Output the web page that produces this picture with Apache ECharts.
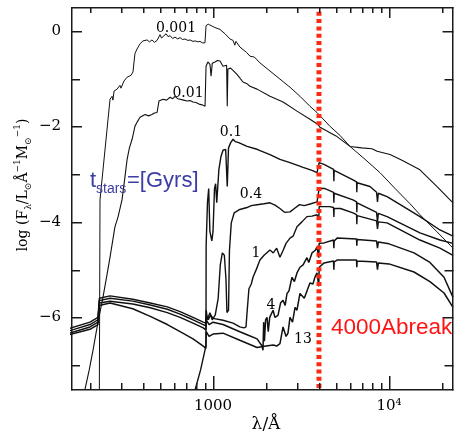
<!DOCTYPE html>
<html><head><meta charset="utf-8">
<script src="https://cdn.jsdelivr.net/npm/echarts@6/dist/echarts.min.js"></script>
<style>html,body{margin:0;padding:0;background:#fff}#c{width:454px;height:439px}#err{position:absolute;left:80px;top:60px;font:10px monospace;color:#c00;width:360px}</style>
</head><body><div id="c"></div><div id="err"></div><script>
// ---- data: [wavelength in Angstrom, log F_lambda] ----
const ageLabels = ['0.001','0.01','0.1','0.4','1','4','13'];
const sed0001 = [[226,-7.7],[228,-3.54],[260,-1.43],[267,-1.37],[270,-1.45],[274,-1.26],[285,-1.22],[296,-1.14],[300,-1.2],[312,-1.05],[325,-0.97],[342,-0.93],[351,-0.86],[360,-0.48],[370,-0.38],[385,-0.27],[400,-0.21],[410,-0.25],[422,-0.19],[435,-0.23],[450,-0.19],[465,-0.24],[481,-0.2],[500,-0.08],[510,-0.15],[520,-0.13],[541,-0.06],[555,-0.12],[570,-0.1],[590,-0.16],[608,-0.13],[630,-0.17],[649,-0.14],[670,-0.18],[693,-0.17],[720,-0.2],[740,-0.19],[770,-0.22],[791,-0.21],[820,-0.23],[843,-0.22],[870,-0.25],[900,-0.25],[911,-0.27],[913,0.11],[940,0.14],[987,0.1],[1026,0.07],[1096,0.03],[1170,-0.06],[1249,-0.17],[1300,-0.2],[1330,-0.3],[1350,-0.22],[1423,-0.34],[1550,-0.45],[1622,-0.53],[1720,-0.55],[1848,-0.67],[2107,-0.84],[2401,-1.01],[2738,-1.18],[3119,-1.37],[3555,-1.58],[3899,-1.71],[4625,-2.0],[5270,-2.19],[6004,-2.42],[7305,-2.69],[8893,-2.97],[10820,-3.3],[13160,-3.62],[14990,-3.85],[18750,-4.21],[23100,-4.55]];
const sed001 = [[180,-7.8],[187,-7.52],[198,-7.1],[208,-6.69],[222,-6.1],[237,-5.58],[250,-5.1],[260,-4.74],[277,-4.11],[289,-3.89],[304,-3.54],[315,-3.1],[325,-2.69],[335,-2.45],[347,-2.27],[360,-2.0],[372,-1.9],[385,-1.81],[395,-1.85],[411,-1.75],[430,-1.78],[450,-1.75],[465,-1.72],[481,-1.71],[493,-1.47],[505,-1.5],[520,-1.43],[545,-1.45],[570,-1.39],[590,-1.42],[608,-1.37],[630,-1.42],[649,-1.43],[680,-1.45],[711,-1.47],[740,-1.46],[769,-1.49],[800,-1.5],[843,-1.54],[870,-1.55],[901,-1.58],[911,-1.58],[913,-0.74],[935,-0.65],[961,-0.7],[975,-0.95],[990,-0.68],[1026,-0.65],[1060,-0.62],[1096,-0.63],[1140,-0.74],[1195,-0.72],[1205,-1.58],[1215,-0.8],[1260,-0.78],[1369,-0.91],[1480,-1.07],[1550,-1.1],[1622,-1.16],[1778,-1.22],[2107,-1.37],[2501,-1.49],[3000,-1.68],[3555,-1.85],[3953,-1.96],[4056,-2.02],[5000,-2.2],[6004,-2.42],[7000,-2.45],[8000,-2.47],[8551,-2.52],[10140,-2.59],[12000,-2.72],[14990,-2.91],[18750,-3.26],[23100,-3.6]];
const sed01 = [[780,-7.6],[850,-7.1],[905,-6.65],[912,-6.6],[914,-4.5],[930,-3.6],[945,-3.3],[960,-4.2],[985,-4.4],[1000,-4.2],[1020,-3.3],[1035,-3.2],[1050,-3.6],[1080,-2.9],[1110,-2.63],[1140,-2.5],[1180,-2.48],[1195,-2.5],[1205,-3.26],[1225,-2.45],[1260,-2.34],[1300,-2.27],[1340,-2.32],[1400,-2.34],[1561,-2.42],[1778,-2.48],[2107,-2.59],[2401,-2.69],[2738,-2.76],[3249,-2.86],[3650,-2.92],[3900,-2.97],[3990,-2.97],[4010,-2.76],[4300,-2.8],[4840,-2.9],[4861,-3.15],[4880,-2.92],[6240,-3.12],[6540,-3.16],[6563,-3.38],[6590,-3.18],[7793,-3.26],[8500,-3.38],[8600,-3.58],[8700,-3.4],[9750,-3.47],[14990,-3.89],[19470,-4.17],[23100,-4.3]];
const sed04 = [[150,-6.24],[200,-6.1],[222,-6.0],[226,-5.6],[260,-5.55],[350,-5.62],[440,-5.7],[550,-5.78],[650,-5.88],[770,-6.0],[880,-6.1],[910,-6.12],[915,-5.85],[930,-6.05],[960,-5.9],[990,-6.05],[1030,-5.95],[1070,-5.6],[1100,-4.9],[1130,-4.65],[1160,-4.7],[1185,-5.2],[1200,-5.9],[1225,-5.85],[1240,-4.6],[1270,-4.02],[1320,-3.81],[1420,-3.74],[1560,-3.7],[1650,-3.66],[1780,-3.64],[1950,-3.62],[2107,-3.6],[2250,-3.65],[2400,-3.72],[2550,-3.8],[2740,-3.79],[2900,-3.72],[3100,-3.64],[3300,-3.66],[3600,-3.62],[3900,-3.58],[3980,-3.62],[4010,-3.3],[4300,-3.3],[4840,-3.38],[4861,-3.6],[4880,-3.4],[6240,-3.54],[6540,-3.58],[6563,-3.8],[6590,-3.6],[8500,-3.8],[8600,-4.0],[8700,-3.82],[9750,-3.89],[14990,-4.23],[19470,-4.38],[23100,-4.45]];
const sed1 = [[150,-6.29],[200,-6.15],[222,-6.05],[226,-5.65],[260,-5.6],[350,-5.66],[440,-5.74],[550,-5.83],[650,-5.93],[770,-6.05],[880,-6.15],[910,-6.18],[915,-5.95],[940,-6.05],[970,-5.95],[1000,-6.02],[1140,-6.06],[1300,-6.12],[1420,-6.2],[1500,-6.22],[1540,-6.2],[1561,-5.9],[1600,-5.4],[1650,-5.3],[1688,-5.16],[1760,-5.0],[1848,-4.8],[1950,-4.7],[2107,-4.59],[2200,-4.65],[2300,-4.55],[2401,-4.74],[2500,-4.6],[2600,-4.45],[2738,-4.34],[2850,-4.3],[3000,-4.1],[3200,-4.0],[3418,-3.89],[3650,-3.88],[3899,-3.85],[3990,-3.95],[4010,-3.68],[4600,-3.68],[4840,-3.7],[4861,-3.9],[4880,-3.72],[5300,-3.72],[6240,-3.81],[6540,-3.85],[6563,-4.05],[6590,-3.87],[8500,-3.98],[8600,-4.15],[8700,-4.0],[9750,-4.02],[14990,-4.38],[19470,-4.55],[23100,-4.7]];
const sed4 = [[150,-6.34],[200,-6.2],[222,-6.1],[226,-5.7],[260,-5.66],[350,-5.72],[440,-5.8],[550,-5.9],[650,-6.0],[770,-6.12],[880,-6.22],[910,-6.26],[915,-6.05],[950,-6.15],[1000,-6.1],[1140,-6.15],[1420,-6.3],[1600,-6.38],[1780,-6.45],[1900,-6.6],[1923,-6.69],[1940,-6.1],[1960,-6.5],[1990,-6.05],[2027,-6.0],[2060,-6.3],[2100,-6.0],[2193,-5.85],[2250,-6.0],[2340,-5.96],[2420,-5.7],[2500,-5.64],[2570,-5.75],[2632,-5.5],[2700,-5.45],[2810,-5.16],[2900,-5.25],[3000,-5.07],[3119,-4.95],[3250,-4.9],[3418,-4.75],[3500,-4.85],[3651,-4.65],[3800,-4.6],[3899,-4.53],[3990,-4.75],[4010,-4.45],[4277,-4.44],[4840,-4.38],[4861,-4.55],[4880,-4.4],[5070,-4.34],[6540,-4.36],[6563,-4.5],[6590,-4.37],[8500,-4.4],[8600,-4.55],[8700,-4.42],[10000,-4.46],[13870,-4.65],[17080,-4.85],[20540,-5.16],[23100,-5.58]];
const sed13 = [[150,-6.37],[200,-6.25],[222,-6.15],[226,-5.75],[260,-5.7],[350,-5.82],[440,-5.98],[550,-6.15],[650,-6.3],[770,-6.45],[880,-6.6],[910,-6.65],[915,-6.3],[950,-6.4],[1000,-6.35],[1140,-6.33],[1420,-6.48],[1780,-6.63],[2000,-6.6],[2200,-6.58],[2300,-6.6],[2401,-6.55],[2500,-6.2],[2600,-6.4],[2667,-6.33],[2738,-6.0],[2830,-6.1],[2925,-5.79],[3000,-5.85],[3119,-5.5],[3300,-5.6],[3418,-5.45],[3555,-5.28],[3697,-5.3],[3800,-5.15],[3899,-5.07],[3990,-5.35],[4010,-4.95],[4277,-4.86],[4840,-4.82],[4861,-5.0],[4880,-4.84],[5070,-4.8],[6540,-4.8],[6563,-4.95],[6590,-4.82],[8500,-4.84],[8600,-5.0],[8700,-4.86],[10000,-4.88],[13870,-5.05],[17080,-5.25],[20540,-5.49],[23100,-5.79]];
const xMinorTicks = [200,300,400,500,600,700,800,900,2000,3000,4000,5000,6000,7000,8000,9000,20000];
const xMajorTicks = [1000,10000];
const xLabelValues = [1000,10000];
const xLabelTexts = ['1000','10⁴'];
const yTicks = [0,-1,-2,-3,-4,-5,-6,-7];
const yLabelValues = [0,-2,-4,-6];
const breakLambda = 4000;
const breakLine = [[breakLambda,0.4],[breakLambda,-7.5]];

// The x axis is logarithmic: the library's value axis is driven in log10(lambda).
const L = Math.log10;
const X_MIN = 156, X_MAX = 23100, Y_MIN = -7.5, Y_MAX = 0.5;
const serif = 'DejaVu Serif';
const errBox = document.getElementById('err');
try {
const chart = echarts.init(document.getElementById('c'), null, {renderer:'canvas'});

const toLog = d => d.map(p => [L(p[0]), p[1]]);
const seds = [sed0001, sed001, sed01, sed04, sed1, sed4, sed13];
const widths = [1, 1.1, 1.4, 1.4, 1.4, 1.5, 1.5];
const series = seds.map((d,i)=>({
  type:'line', name:ageLabels[i], data:toLog(d),
  symbol:'none', showSymbol:false, silent:true, clip:true,
  lineStyle:{color:'#111', width:widths[i]}, z:2
}));
series.push({type:'line', name:'break', data:toLog(breakLine),
  symbol:'none', silent:true, lineStyle:{color:'#fb2a12', width:5, type:[4,3.3], cap:'butt'}, z:5});

const labelPos = [[176,28],[188,93],[231,132],[251,194],[256,253],[271,305],[303,339]];
const graphics = ageLabels.map((t,i)=>({type:'text', x:labelPos[i][0], y:labelPos[i][1], z:10,
  style:{text:t, font:'14px "DejaVu Serif"', fill:'#000', align:'center', verticalAlign:'middle'}}));
graphics.push({type:'text', x:90, y:181, z:10, style:{text:'t', font:'22px "Liberation Sans"', fill:'#3c3ca6', align:'left', verticalAlign:'middle'}});
graphics.push({type:'text', x:96, y:189, z:10, style:{text:'stars', font:'14px "Liberation Sans"', fill:'#3c3ca6', align:'left', verticalAlign:'middle'}});
graphics.push({type:'text', x:127, y:181, z:10, style:{text:'=[Gyrs]', font:'22px "Liberation Sans"', fill:'#3c3ca6', align:'left', verticalAlign:'middle'}});
graphics.push({type:'text', x:331, y:328, z:10, style:{text:'4000Abreak', font:'22.5px "Liberation Sans"', fill:'#ff1414', align:'left', verticalAlign:'middle'}});
graphics.push({type:'text', x:266, y:425, z:10, style:{text:'λ/Å', font:'17px "DejaVu Serif"', fill:'#000', align:'center', verticalAlign:'middle'}});
graphics.push({type:'text', x:23, y:185, rotation:Math.PI/2, z:10, style:{
  text:'{m|log (F}{s|λ}{m|/L}{s|⊙}{m|Å}{p|−1}{m|M}{s|⊙}{p|−1}{m|)}',
  align:'center', verticalAlign:'middle', fill:'#000',
  rich:{
    m:{fontFamily:serif, fontSize:14, lineHeight:20, verticalAlign:'middle', fill:'#000'},
    s:{fontFamily:serif, fontSize:9, lineHeight:11, verticalAlign:'bottom', fill:'#000'},
    p:{fontFamily:serif, fontSize:9, lineHeight:11, verticalAlign:'top', fill:'#000'}
  }}});

chart.setOption({
  animation:false,
  backgroundColor:'#fff',
  grid:{left:71, right:1, top:7, bottom:50, containLabel:false, show:false},
  xAxis:{type:'value', min:L(X_MIN), max:L(X_MAX), position:'bottom',
    axisLine:{show:false, onZero:false}, axisTick:{show:false}, axisLabel:{show:false},
    splitLine:{show:false}, minorTick:{show:false}},
  yAxis:{type:'value', min:Y_MIN, max:Y_MAX, position:'left',
    axisLine:{show:false, onZero:false}, axisTick:{show:false}, axisLabel:{show:false},
    splitLine:{show:false}},
  series:series,
  graphic:graphics
});

// Frame, ticks and tick labels, placed through the axes' own scales (drawn as thin filled bars).
const toPx = (x, y) => chart.convertToPixel({seriesIndex:0}, [x, y]);
const pb = toPx(L(X_MIN), Y_MIN), pt = toPx(L(X_MAX), Y_MAX);
const xl = Math.round(pb[0]), yb = Math.round(pb[1]), xr = Math.round(pt[0]) - 1, yt = Math.round(pt[1]);
const W = 1.5;
const bar = (x, y, w, h) => ({type:'rect', z:8, silent:true, shape:{x:x, y:y, width:w, height:h}, style:{fill:'#1a1a1a'}});
const extra = [];
extra.push(bar(xl, yt, xr - xl + W, W));      // top
extra.push(bar(xl, yb, xr - xl + W, W));      // bottom
extra.push(bar(xl, yt, W, yb - yt + W));      // left
extra.push(bar(xr, yt, W, yb - yt + W));      // right
xMinorTicks.concat(xMajorTicks).forEach(t => {
  const major = xMajorTicks.indexOf(t) >= 0;
  const x = Math.round(toPx(L(t), Y_MIN)[0]);
  const lb = major ? 13 : 6, lt = major ? 11 : 6;
  extra.push(bar(x, yb - lb, W, lb));
  extra.push(bar(x, yt, W, lt));
});
xLabelValues.forEach((t,i) => {
  const x = toPx(L(t), Y_MIN)[0];
  extra.push({type:'text', z:8, silent:true, x:x, y:yb+10, style:{text:xLabelTexts[i], font:'15px "DejaVu Serif"', fill:'#000', align:'center', verticalAlign:'top'}});
});
yTicks.forEach(v => {
  const len = yLabelValues.indexOf(v) >= 0 ? 11 : 9;
  const y = Math.round(toPx(L(X_MIN), v)[1]);
  extra.push(bar(xl, y, len, W));
  extra.push(bar(xr - len + W, y, len, W));
});
yLabelValues.forEach(v => {
  const y = toPx(L(X_MIN), v)[1];
  extra.push({type:'text', z:8, silent:true, x:xl-10, y:y, style:{text:(v===0 ? '0' : '\u2212' + Math.abs(v)), font:'15px "DejaVu Serif"', fill:'#000', align:'right', verticalAlign:'middle'}});
});
chart.setOption({graphic: graphics.concat(extra)});
} catch (e) { errBox.textContent = 'ERR: ' + e.message + ' ' + (e.stack||'').slice(0,300); }
</script></body></html>
